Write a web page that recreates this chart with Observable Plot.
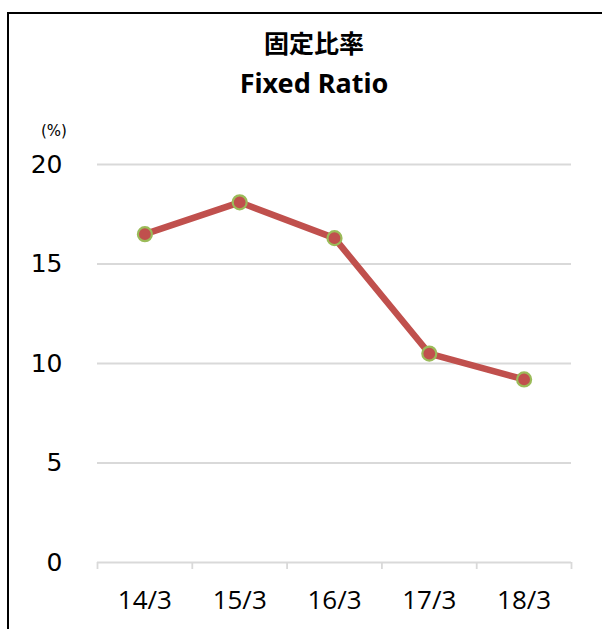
<!DOCTYPE html>
<html>
<head>
<meta charset="utf-8">
<script src="https://cdn.jsdelivr.net/npm/d3@7"></script>
<script src="https://cdn.jsdelivr.net/npm/@observablehq/plot@0.6"></script>
<style>
  html, body { margin: 0; padding: 0; width: 602px; height: 629px; overflow: hidden; background: #fff; }
  #frame { position: absolute; left: 7px; top: 12px; width: 800px; height: 800px;
           border-left: 2px solid #000; border-top: 2px solid #000; }
  .t { position: absolute; left: 0; width: 628px; text-align: center; color: #000; white-space: nowrap; }
  #t1 { top: 27px; font-family: "Noto Sans CJK JP", sans-serif; font-weight: 700; font-size: 25px; line-height: 30px; }
  #t2 { top: 67px; font-family: "Noto Sans", sans-serif; font-weight: 700; font-size: 27px; line-height: 32px; }
  #unit { position: absolute; left: 41px; top: 122px; font-family: "DejaVu Sans", sans-serif; font-size: 15px; line-height: 18px; }
  #chart { position: absolute; left: 0; top: 0; }
  g[aria-label="y-axis tick label"] text { font-family: "DejaVu Sans", sans-serif; }
  g[aria-label="x-axis tick label"] text { font-family: "Open Sans", sans-serif; }
</style>
</head>
<body>
<div id="frame"></div>
<div class="t" id="t1">固定比率</div>
<div class="t" id="t2">Fixed Ratio</div>
<div id="unit">(%)</div>
<div id="chart"></div>
<script>
const categories = ["14/3", "15/3", "16/3", "17/3", "18/3"];
const values = [16.5, 18.1, 16.3, 10.5, 9.2];
const yTicks = [0, 5, 10, 15, 20];

const data = categories.map((c, i) => ({cat: c, idx: i + 0.5, value: values[i]}));
const boundaries = d3.range(categories.length + 1);
const centers = categories.map((c, i) => i + 0.5);

const plot = Plot.plot({
  width: 602,
  height: 629,
  marginLeft: 97,
  marginRight: 31,
  marginTop: 164,
  marginBottom: 67,
  style: {background: "transparent", overflow: "visible", fontFamily: "DejaVu Sans"},
  x: {type: "linear", domain: [0, categories.length]},
  y: {domain: [0, 20]},
  marks: [
    Plot.ruleY(yTicks, {stroke: "#d9d9d9", strokeWidth: 1.8}),
    Plot.axisX(boundaries, {tickSize: 7, stroke: "#d9d9d9", strokeWidth: 1.8, tickFormat: () => "", label: null}),
    Plot.axisX(centers, {tickSize: 0, tickPadding: 28, tickFormat: v => categories[Math.floor(v)],
      fontFamily: "Open Sans", fontSize: 26, fill: "#000", label: null}),
    Plot.axisY(yTicks, {tickSize: 0, tickPadding: 35, fontFamily: "DejaVu Sans", fontSize: 25, fill: "#000", label: null}),
    Plot.line(data, {x: "idx", y: "value", stroke: "#C0504D", strokeWidth: 6.5, strokeLinejoin: "round"}),
    Plot.dot(data, {x: "idx", y: "value", r: 7, fill: "#C0504D", stroke: "#9BBB59", strokeWidth: 2.2})
  ]
});
document.getElementById("chart").appendChild(plot);
</script>
</body>
</html>
